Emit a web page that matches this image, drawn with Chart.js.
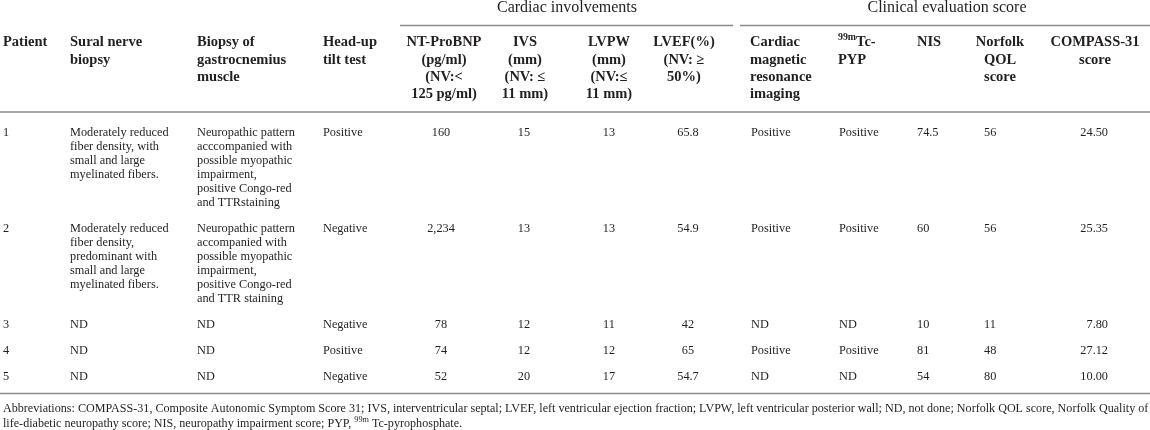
<!DOCTYPE html>
<html>
<head>
<meta charset="utf-8">
<script src="https://cdn.jsdelivr.net/npm/chart.js@4.4.1/dist/chart.umd.min.js"></script>
<style>
  html, body { margin: 0; padding: 0; background: #fff; }
  #tabla { display: block; }
</style>
</head>
<body>
<canvas id="tabla" width="1150" height="430"></canvas>
<script>
// datos de la tabla (una lista por columna)
const pacientes = [1, 2, 3, 4, 5];
const biopsiaSural = [
  "Moderately reduced\nfiber density, with\nsmall and large\nmyelinated fibers.",
  "Moderately reduced\nfiber density,\npredominant with\nsmall and large\nmyelinated fibers.",
  "ND", "ND", "ND"
];
const biopsiaMusculo = [
  "Neuropathic pattern\nacccompanied with\npossible myopathic\nimpairment,\npositive Congo-red\nand TTRstaining",
  "Neuropathic pattern\naccompanied with\npossible myopathic\nimpairment,\npositive Congo-red\nand TTR staining",
  "ND", "ND", "ND"
];
const tiltTest = ["Positive", "Negative", "Negative", "Positive", "Negative"];
const ntProBNP = [160, 2234, 78, 74, 52];
const ivs = [15, 13, 12, 12, 20];
const lvpw = [13, 13, 11, 12, 17];
const lvef = [65.8, 54.9, 42, 65, 54.7];
const resonancia = ["Positive", "Positive", "ND", "Positive", "ND"];
const pyp = ["Positive", "Positive", "ND", "Positive", "ND"];
const nis = [74.5, 60, 10, 81, 54];
const norfolk = [56, 56, 11, 48, 80];
const compass = [24.50, 25.35, 7.80, 27.12, 10.00];

const encabezados = [
  ["Patient"],
  ["Sural nerve", "biopsy"],
  ["Biopsy of", "gastrocnemius", "muscle"],
  ["Head-up", "tilt test"],
  ["NT-ProBNP", "(pg/ml)", "(NV:<", "125 pg/ml)"],
  ["IVS", "(mm)", "(NV: ≤", "11 mm)"],
  ["LVPW", "(mm)", "(NV:≤", "11 mm)"],
  ["LVEF(%)", "(NV: ≥", "50%)"],
  ["Cardiac", "magnetic", "resonance", "imaging"],
  ["^{99m}Tc-", "PYP"],
  ["NIS"],
  ["Norfolk", "QOL", "score"],
  ["COMPASS-31", "score"]
];
const grupos = ["Cardiac involvements", "Clinical evaluation score"];
const notaLineas = [
  "Abbreviations: COMPASS-31, Composite Autonomic Symptom Score 31; IVS, interventricular septal; LVEF, left ventricular ejection fraction; LVPW, left ventricular posterior wall; ND, not done; Norfolk QOL score, Norfolk Quality of",
  "life-diabetic neuropathy score; NIS, neuropathy impairment score; PYP, ^{99m} Tc-pyrophosphate."
];

// texto de cada celda
const columnas = [
  pacientes.map(String),
  biopsiaSural,
  biopsiaMusculo,
  tiltTest,
  ntProBNP.map(v => v.toLocaleString("en-US")),
  ivs.map(String),
  lvpw.map(String),
  lvef.map(String),
  resonancia,
  pyp,
  nis.map(String),
  norfolk.map(String),
  compass.map(v => v.toFixed(2))
];

// disposicion (unidades de las escalas)
const colCabX = [3, 70, 197, 323, 444, 525, 609, 684, 750, 838, 917, 1000, 1095];
const colCabAlin = ["left", "left", "left", "left", "center", "center", "center", "center", "left", "left", "left", "center", "center"];
const colValX = [3, 70, 197, 323, 441, 524, 609, 688, 751, 839, 917, 984, 1108];
const colValAlin = ["left", "left", "left", "left", "center", "center", "center", "center", "left", "left", "left", "left", "right"];
const grupoCentro = [567, 947];
const grupoDesde = [400, 740];
const grupoHasta = [733, 1150];

const fuente = '"Liberation Serif", "Times New Roman", serif';
const colorTexto = "#231f20";
const colorRegla = "#8a8a8a";

function textoRico(ctx, texto, px, py, alin, tam, peso) {
  const partes = texto.split(/(\^\{[^}]*\})/).filter(s => s);
  const trozos = partes.map(p => {
    const sup = p.startsWith("^{");
    const t = sup ? p.slice(2, -1) : p;
    const f = (peso ? peso + " " : "") + (sup ? tam * 0.68 : tam) + "px " + fuente;
    ctx.font = f;
    return { t, f, sup, w: ctx.measureText(t).width };
  });
  const total = trozos.reduce((a, s) => a + s.w, 0);
  let cx = alin === "center" ? px - total / 2 : alin === "right" ? px - total : px;
  ctx.textAlign = "left";
  trozos.forEach(s => {
    ctx.font = s.f;
    ctx.fillText(s.t, cx, s.sup ? py - tam * 0.33 : py);
    cx += s.w;
  });
}

function regla(ctx, x, y, x0, x1, y0) {
  ctx.beginPath();
  ctx.moveTo(x.getPixelForValue(x0), y.getPixelForValue(y0));
  ctx.lineTo(x.getPixelForValue(x1), y.getPixelForValue(y0));
  ctx.stroke();
}

const pluginTabla = {
  id: "pluginTabla",
  afterDraw(chart) {
    const { ctx, scales: { x, y } } = chart;
    ctx.save();
    ctx.fillStyle = colorTexto;
    ctx.strokeStyle = colorRegla;
    ctx.lineWidth = 1.3;
    ctx.textBaseline = "middle";

    // grupos
    grupos.forEach((g, i) => {
      textoRico(ctx, g, x.getPixelForValue(grupoCentro[i]), y.getPixelForValue(7.5), "center", 16, "");
      regla(ctx, x, y, grupoDesde[i], grupoHasta[i], 25.5);
    });

    // encabezados
    encabezados.forEach((lineas, c) => {
      lineas.forEach((l, k) => {
        textoRico(ctx, l, x.getPixelForValue(colCabX[c]), y.getPixelForValue(42.5 + k * 17.3), colCabAlin[c], 14.5, "bold");
      });
    });
    regla(ctx, x, y, 0, 1150, 112);

    // filas
    let yFila = 133;
    const altoLinea = 14;
    pacientes.forEach((p, r) => {
      let maxLineas = 1;
      columnas.forEach((col, c) => {
        const lineas = col[r].split("\n");
        maxLineas = Math.max(maxLineas, lineas.length);
        lineas.forEach((l, k) => {
          textoRico(ctx, l, x.getPixelForValue(colValX[c]), y.getPixelForValue(yFila + k * altoLinea), colValAlin[c], 12.3, "");
        });
      });
      if (r < pacientes.length - 1) yFila += (maxLineas - 1) * altoLinea + 26;
    });
    regla(ctx, x, y, 0, 1150, yFila + 16.5);

    // nota al pie, ajustada al ancho
    ctx.font = "10px " + fuente;
    const tamNota = Math.min(12.5, 10 * 1146 / ctx.measureText(notaLineas[0]).width);
    notaLineas.forEach((l, k) => {
      textoRico(ctx, l, x.getPixelForValue(3), y.getPixelForValue(yFila + 32 + k * 14.5), "left", tamNota, "");
    });
    ctx.restore();
  }
};

new Chart(document.getElementById("tabla").getContext("2d"), {
  type: "scatter",
  data: { datasets: [] },
  options: {
    responsive: false,
    animation: false,
    layout: { padding: 0 },
    plugins: { legend: { display: false }, tooltip: { enabled: false } },
    scales: {
      x: { type: "linear", min: 0, max: 1150, display: false },
      y: { type: "linear", min: 0, max: 430, reverse: true, display: false }
    }
  },
  plugins: [pluginTabla]
});
</script>
</body>
</html>
